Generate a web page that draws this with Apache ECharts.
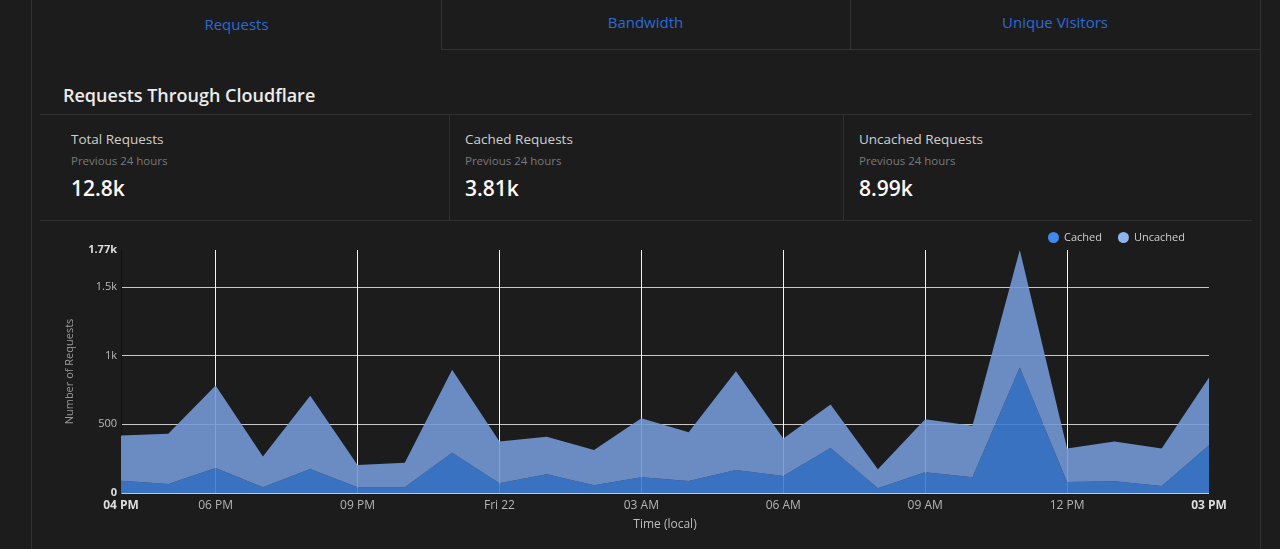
<!DOCTYPE html>
<html>
<head>
<meta charset="utf-8">
<title>Requests Through Cloudflare</title>
<script src="https://cdn.jsdelivr.net/npm/echarts@6/dist/echarts.min.js"></script>
<style>
    html, body { margin: 0; padding: 0; background: #1c1c1c; width: 1280px; height: 549px; overflow: hidden;
        font-family: 'Segoe UI', 'Open Sans', 'Noto Sans', sans-serif; }
    .vline { position: absolute; width: 1px; background: #333; }
    .hline { position: absolute; height: 1px; background: #2f2f2f; }
    .tab { position: absolute; top: 0; height: 49px; color: #2b6ad9; font-size: 15px; text-align: center; }
    .title { position: absolute; left: 63px; top: 83px; color: #ececec; font-size: 18px; font-weight: 600; }
    .card { position: absolute; top: 115px; height: 105px; }
    .card .name { position: absolute; top: 15px; color: #cfcfcf; font-size: 13.5px; white-space: nowrap; }
    .card .sub { position: absolute; top: 38px; color: #7a7a7a; font-size: 11.5px; white-space: nowrap; }
    .card .num { position: absolute; top: 59px; color: #fafafa; font-size: 21px; font-weight: 600; white-space: nowrap; }
    #chart { position: absolute; left: 0; top: 222px; width: 1280px; height: 327px; }
</style>
</head>
<body>

<!-- panel borders -->
<div class="vline" style="left:31px;top:0;height:549px;"></div>
<div class="vline" style="left:1260px;top:0;height:549px;"></div>

<!-- tabs -->
<div class="tab" style="left:32px;width:409px;line-height:48px;">Requests</div>
<div class="tab" style="left:441px;width:409px;line-height:44px;">Bandwidth</div>
<div class="tab" style="left:850px;width:410px;line-height:44px;">Unique Visitors</div>
<div class="vline" style="left:441px;top:0;height:50px;"></div>
<div class="vline" style="left:850px;top:0;height:50px;"></div>
<div class="hline" style="left:441px;top:49px;width:820px;background:#333;"></div>

<div class="title">Requests Through Cloudflare</div>
<div class="hline" style="left:40px;top:114px;width:1212px;"></div>

<!-- stat cards -->
<div class="card" style="left:71px;">
    <div class="name">Total Requests</div>
    <div class="sub">Previous 24 hours</div>
    <div class="num">12.8k</div>
</div>
<div class="card" style="left:465px;">
    <div class="name">Cached Requests</div>
    <div class="sub">Previous 24 hours</div>
    <div class="num">3.81k</div>
</div>
<div class="card" style="left:859px;">
    <div class="name">Uncached Requests</div>
    <div class="sub">Previous 24 hours</div>
    <div class="num">8.99k</div>
</div>
<div class="vline" style="left:449px;top:115px;height:105px;background:#2f2f2f;"></div>
<div class="vline" style="left:843px;top:115px;height:105px;background:#2f2f2f;"></div>
<div class="hline" style="left:40px;top:220px;width:1212px;"></div>

<div id="chart"></div>

<script>
//*******************************    data   *******************************
// hourly buckets, 04 PM (Thu) to 03 PM (Fri)
var hours = ['04 PM', '05 PM', '06 PM', '07 PM', '08 PM', '09 PM', '10 PM', '11 PM',
    'Fri 22', '01 AM', '02 AM', '03 AM', '04 AM', '05 AM', '06 AM', '07 AM',
    '08 AM', '09 AM', '10 AM', '11 AM', '12 PM', '01 PM', '02 PM', '03 PM'];

var cached = [90, 66, 182, 41, 175, 41, 41, 294, 71, 136, 56, 115,
    88, 168, 124, 328, 34, 151, 115, 915, 80, 85, 51, 348];

var uncached = [328, 365, 601, 224, 533, 163, 180, 604, 304, 273, 258, 430,
    355, 718, 273, 317, 139, 387, 374, 855, 244, 290, 273, 494];

var yMax = 1770;
var yTicks = ['0', '500', '1k', '1.5k', '1.77k'];

//*******************************    chart start   *******************************
var reqChart = echarts.init(document.getElementById('chart'));

var font = "'Segoe UI', 'Open Sans', 'Noto Sans', sans-serif";
var last = hours.length - 1;

// every 3 hours from 06 PM gets a label and a vertical line
function onTick(i) {
    return i > 0 && i < last && (i - 2) % 3 === 0;
}

reqChart.setOption({
    backgroundColor: 'transparent',
    animation: false,
    textStyle: { fontFamily: font },
    legend: {
        right: 90,
        top: 5,
        icon: 'circle',
        itemWidth: 11,
        itemHeight: 11,
        itemGap: 16,
        textStyle: { color: '#cfcfcf', fontSize: 11 },
        data: [
            { name: 'Cached', itemStyle: { color: '#3f88ee' } },
            { name: 'Uncached', itemStyle: { color: '#8ab5ef' } }
        ]
    },
    grid: { left: 121, right: 71, top: 28, bottom: 56 },
    xAxis: {
        type: 'category',
        data: hours,
        boundaryGap: false,
        name: 'Time (local)',
        nameLocation: 'middle',
        nameGap: 26,
        nameTextStyle: { color: '#bdbdbd', fontSize: 12 },
        axisLine: { show: false },
        axisTick: { show: false },
        axisLabel: {
            interval: function (i) { return i === 0 || i === last || onTick(i); },
            color: '#b5b5b5',
            fontSize: 12,
            margin: 7,
            formatter: function (v, i) {
                return (i === 0 || i === last) ? '{b|' + v + '}' : v;
            },
            rich: { b: { color: '#dedede', fontWeight: 'bold', fontSize: 12 } }
        },
        splitLine: {
            show: true,
            interval: function (i) { return onTick(i); },
            lineStyle: { color: '#f2f2f2', width: 1 }
        }
    },
    yAxis: {
        type: 'value',
        min: 0,
        max: yMax,
        interval: 500,
        name: 'Number of Requests',
        nameLocation: 'middle',
        nameGap: 46,
        nameTextStyle: { color: '#9a9a9a', fontSize: 11 },
        axisLine: { show: true, lineStyle: { color: '#111', width: 1 } },
        axisTick: { show: false },
        axisLabel: {
            color: '#bcbcbc',
            fontSize: 11,
            margin: 4,
            formatter: function (v) {
                var t = v >= 1000 ? (v / 1000) + 'k' : String(v);
                if (v === yMax) t = yTicks[yTicks.length - 1];
                return (v === 0 || v === yMax) ? '{b|' + t + '}' : t;
            },
            rich: { b: { color: '#dedede', fontWeight: 'bold', fontSize: 11 } }
        },
        splitLine: {
            show: true,
            lineStyle: { color: ['#c8c8c8', '#c8c8c8', '#c8c8c8', '#c8c8c8', 'rgba(0,0,0,0)'], width: 1 }
        }
    },
    series: [
        {
            name: 'Cached',
            type: 'line',
            stack: 'req',
            data: cached,
            symbol: 'none',
            lineStyle: { width: 0 },
            itemStyle: { color: '#3f88ee' },
            areaStyle: { color: 'rgb(61,124,212)', opacity: 0.9 }
        },
        {
            name: 'Uncached',
            type: 'line',
            stack: 'req',
            data: uncached,
            symbol: 'none',
            lineStyle: { width: 0 },
            itemStyle: { color: '#8ab5ef' },
            areaStyle: { color: 'rgb(115,153,213)', opacity: 0.9 }
        }
    ]
});
//*******************************    chart end   *******************************
</script>
</body>
</html>
